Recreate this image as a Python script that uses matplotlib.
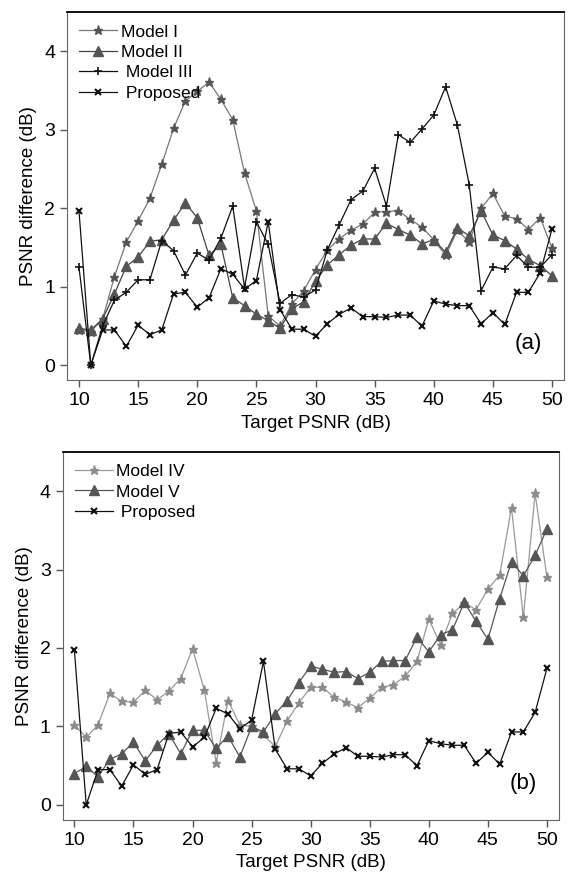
import numpy as np
import matplotlib
matplotlib.use("Agg")
import matplotlib.pyplot as plt

plt.rcParams['font.family'] = ['Liberation Sans', 'DejaVu Sans']

target = list(range(10, 51))

model1 = [0.45, 0.43, 0.59, 1.13, 1.57, 1.84, 2.13, 2.56, 3.02, 3.37, 3.49,
          3.61, 3.39, 3.13, 2.45, 1.97, 0.63, 0.50, 0.78, 0.95, 1.22,
          1.47, 1.61, 1.72, 1.80, 1.95, 1.96, 1.97, 1.86, 1.76, 1.60,
          1.40, 1.72, 1.57, 2.00, 2.19, 1.90, 1.87, 1.73, 1.88, 1.49]
model2 = [0.47, 0.45, 0.59, 0.91, 1.26, 1.38, 1.58, 1.60, 1.85, 2.07, 1.88,
          1.40, 1.54, 0.86, 0.76, 0.65, 0.57, 0.47, 0.72, 0.81, 1.07,
          1.28, 1.41, 1.53, 1.61, 1.61, 1.81, 1.73, 1.66, 1.55, 1.60,
          1.44, 1.75, 1.65, 1.97, 1.66, 1.59, 1.48, 1.35, 1.27, 1.14]
model3 = [1.25, 0.00, 0.50, 0.83, 0.93, 1.09, 1.09, 1.59, 1.46, 1.15, 1.43,
          1.34, 1.62, 2.03, 0.99, 1.83, 1.54, 0.79, 0.90, 0.87, 0.96,
          1.47, 1.79, 2.11, 2.22, 2.51, 2.03, 2.94, 2.84, 3.01, 3.19,
          3.55, 3.06, 2.30, 0.95, 1.25, 1.23, 1.40, 1.25, 1.25, 1.41]
proposed = [1.97, 0.00, 0.45, 0.45, 0.24, 0.51, 0.39, 0.45, 0.91, 0.93, 0.74,
            0.86, 1.23, 1.16, 0.97, 1.08, 1.83, 0.71, 0.46, 0.46, 0.37,
            0.53, 0.65, 0.73, 0.62, 0.62, 0.61, 0.64, 0.64, 0.50, 0.82,
            0.78, 0.76, 0.76, 0.53, 0.67, 0.52, 0.93, 0.93, 1.18, 1.74]
model4 = [1.02, 0.86, 1.02, 1.42, 1.32, 1.31, 1.46, 1.34, 1.45, 1.61, 1.99,
          1.46, 0.54, 1.33, 1.02, 1.00, 0.90, 0.74, 1.07, 1.30, 1.50,
          1.50, 1.37, 1.31, 1.24, 1.36, 1.50, 1.53, 1.64, 1.83, 2.37,
          2.04, 2.44, 2.57, 2.49, 2.75, 2.93, 3.79, 2.39, 3.97, 2.90]
model5 = [0.40, 0.49, 0.36, 0.58, 0.65, 0.80, 0.56, 0.76, 0.91, 0.65, 0.95,
          0.95, 0.72, 0.88, 0.61, 1.00, 0.93, 1.16, 1.33, 1.56, 1.77,
          1.73, 1.69, 1.70, 1.61, 1.69, 1.83, 1.84, 1.84, 2.14, 1.95,
          2.17, 2.23, 2.58, 2.34, 2.11, 2.63, 3.10, 2.92, 3.18, 3.52]

fig = plt.figure(figsize=(5.69, 8.74), dpi=100)
ax1 = fig.add_axes([0.118, 0.565, 0.873, 0.421])
ax2 = fig.add_axes([0.110, 0.062, 0.872, 0.421])

ax1.plot(target, model1, color='#777777', lw=0.9, marker='*', ms=6.5,
         mfc='#555555', mec='#555555', label='Model I')
ax1.plot(target, model2, color='#444444', lw=0.9, marker='^', ms=6.5,
         mfc='#555555', mec='#555555', label='Model II')
ax1.plot(target, model3, color='#111111', lw=0.9, marker='+', ms=6,
         mew=1.2, label=' Model III')
ax1.plot(target, proposed, color='#111111', lw=0.9, marker='x', ms=5,
         mew=1.5, label=' Proposed')

ax2.plot(target, model4, color='#999999', lw=0.9, marker='*', ms=6.5,
         mfc='#8c8c8c', mec='#8c8c8c', label='Model IV')
ax2.plot(target, model5, color='#555555', lw=0.9, marker='^', ms=6.5,
         mfc='#555555', mec='#555555', label='Model V')
ax2.plot(target, proposed, color='#111111', lw=0.9, marker='x', ms=5,
         mew=1.5, label=' Proposed')

for ax, tag in [(ax1, '(a)'), (ax2, '(b)')]:
    ax.set_xlim(9, 51)
    ax.set_ylim(-0.19, 4.5)
    ax.set_xticks(range(10, 51, 5))
    ax.set_yticks(range(0, 5))
    ax.tick_params(labelsize=14, length=5, width=1, color='#555555', direction='out')
    for s in ['left', 'bottom', 'right']:
        ax.spines[s].set_color('#666666')
    ax.spines['top'].set_color('black')
    ax.spines['top'].set_linewidth(1.3)
    ax.set_xlabel('Target PSNR (dB)', fontsize=13.5, labelpad=4)
    ax.set_ylabel('PSNR difference (dB)', fontsize=13.5, labelpad=5)
    ax.text(0.955, 0.07, tag, transform=ax.transAxes, fontsize=16,
            ha='right', va='bottom')
    ax.legend(loc='upper left', frameon=False, fontsize=12.5, handlelength=2.2,
              handletextpad=0.2, labelspacing=0.3, borderaxespad=0.3,
              numpoints=1)

fig.savefig('out.png', dpi=100)
